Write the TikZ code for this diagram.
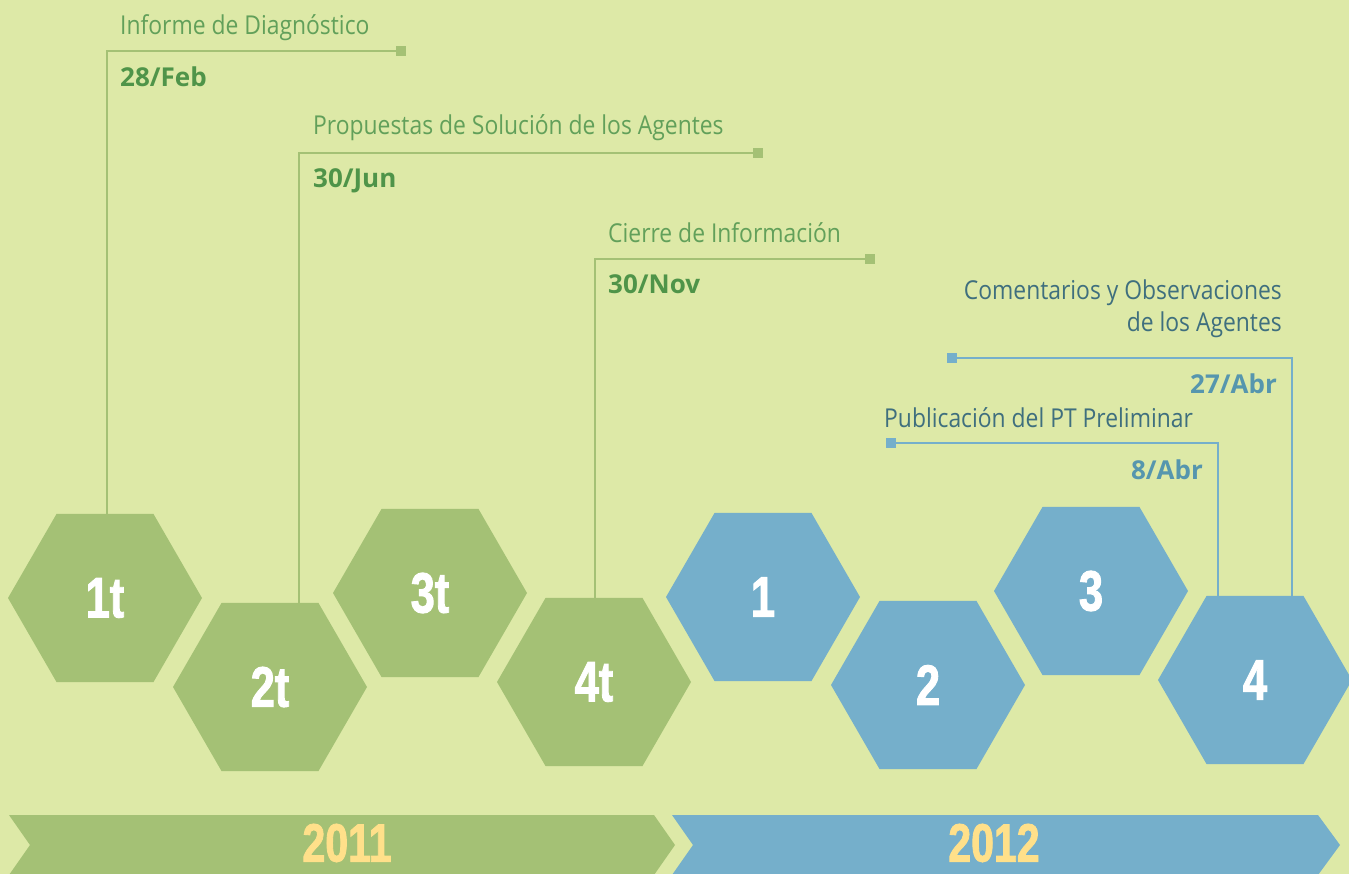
\documentclass[tikz,border=0pt]{standalone}
\usepackage{fontspec}
\setmainfont{Open Sans}
\newfontfamily\labelfont{Open Sans}[FakeStretch=0.88]
\newfontfamily\numfont{Liberation Sans}[FakeStretch=0.76, FakeBold=1.6]
\usetikzlibrary{shapes.geometric, positioning, calc}

\definecolor{bgcol}{HTML}{DDE9A7}
\definecolor{hexgreen}{HTML}{A4C175}
\definecolor{hexblue}{HTML}{75AFCB}
\definecolor{yeartext}{HTML}{FFE08A}
\definecolor{labgreen}{HTML}{62A05A}
\definecolor{dategreen}{HTML}{4F9449}
\definecolor{labblue}{HTML}{3F6F7E}
\definecolor{dateblue}{HTML}{5696AE}

\tikzset{
  hexa/.style={regular polygon, regular polygon sides=6, minimum size=194pt,
    inner sep=0pt, outer sep=0pt, text=white,
    font=\numfont\bfseries\fontsize{57}{57}\selectfont},
  endsq/.style={rectangle, minimum size=10pt, inner sep=0pt, outer sep=0pt},
  gline/.style={draw=hexgreen, line width=2.4pt},
  bline/.style={draw=hexblue, line width=2.4pt},
  glabel/.style={text=labgreen, inner sep=0pt, font=\labelfont\fontsize{26}{30}\selectfont},
  blabel/.style={text=labblue, inner sep=0pt, align=right, font=\labelfont\fontsize{26}{31}\selectfont},
  gdate/.style={text=dategreen, inner sep=0pt, font=\bfseries\fontsize{26}{30}\selectfont},
  bdate/.style={text=dateblue, inner sep=0pt, font=\bfseries\fontsize{26}{30}\selectfont},
  year/.style={text=yeartext, inner sep=0pt, font=\numfont\bfseries\fontsize{54}{54}\selectfont}
}

\begin{document}
\begin{tikzpicture}[x=1pt, y=-1pt]
  \useasboundingbox (0,0) rectangle (1349,874);
  \fill[bgcol] (0,0) rectangle (1349,874);

  % year banners
  \fill[hexgreen] (9,815) -- (654,815) -- (675,845) -- (654,875) -- (9,875) -- (30,845) -- cycle;
  \fill[hexblue] (672,815) -- (1318,815) -- (1340,845) -- (1318,875) -- (672,875) -- (693,845) -- cycle;
  \node[year] (y2011) at (347,843) {2011};
  \node[year] (y2012) at (994,843) {2012};

  % quarters
  \node[hexa, fill=hexgreen] (q1) at (105,598) {1t};
  \node[hexa, fill=hexgreen] (q2) at (270,687) {2t};
  \node[hexa, fill=hexgreen] (q3) at (430,593) {3t};
  \node[hexa, fill=hexgreen] (q4) at (594,682) {4t};
  \node[hexa, fill=hexblue] (p1) at (763,597) {1};
  \node[hexa, fill=hexblue] (p2) at (928,685) {2};
  \node[hexa, fill=hexblue] (p3) at (1091,591) {3};
  \node[hexa, fill=hexblue] (p4) at (1255,680) {4};

  % 2011 milestones
  \node[endsq, fill=hexgreen] (s1) at (401,51) {};
  \draw[gline] ($(q1.north)+(2,0)$) |- (s1);
  \node[glabel, anchor=base west] (l1) at (120,35) {Informe de Diagnóstico};
  \node[gdate, anchor=base west] (d1) at (120,87) {28/Feb};

  \node[endsq, fill=hexgreen] (s2) at (758,153) {};
  \draw[gline] ($(q2.north)+(29,0)$) |- (s2);
  \node[glabel, anchor=base west] (l2) at (313,135) {Propuestas de Solución de los Agentes};
  \node[gdate, anchor=base west] (d2) at (313,188) {30/Jun};

  \node[endsq, fill=hexgreen] (s3) at (870,259) {};
  \draw[gline] ($(q4.north)+(1,0)$) |- (s3);
  \node[glabel, anchor=base west] (l3) at (608,243) {Cierre de Información};
  \node[gdate, anchor=base west] (d3) at (608,294) {30/Nov};

  % 2012 milestones
  \node[endsq, fill=hexblue] (s4) at (891,443) {};
  \draw[bline] ($(p4.north)+(-37,0)$) |- (s4);
  \node[blabel, anchor=base west] (l4) at (884,427) {Publicación del PT Preliminar};
  \node[bdate, anchor=base east] (d4) at (1203,479) {8/Abr};

  \node[endsq, fill=hexblue] (s5) at (952,358) {};
  \draw[bline] ($(p4.north)+(37,0)$) |- (s5);
  \node[blabel, anchor=base east] (l5) at (1282,300) {Comentarios y Observaciones};
  \node[blabel, anchor=base east] (l6) at (1282,332) {de los Agentes};
  \node[bdate, anchor=base east] (d5) at (1277,393) {27/Abr};
\end{tikzpicture}
\end{document}
